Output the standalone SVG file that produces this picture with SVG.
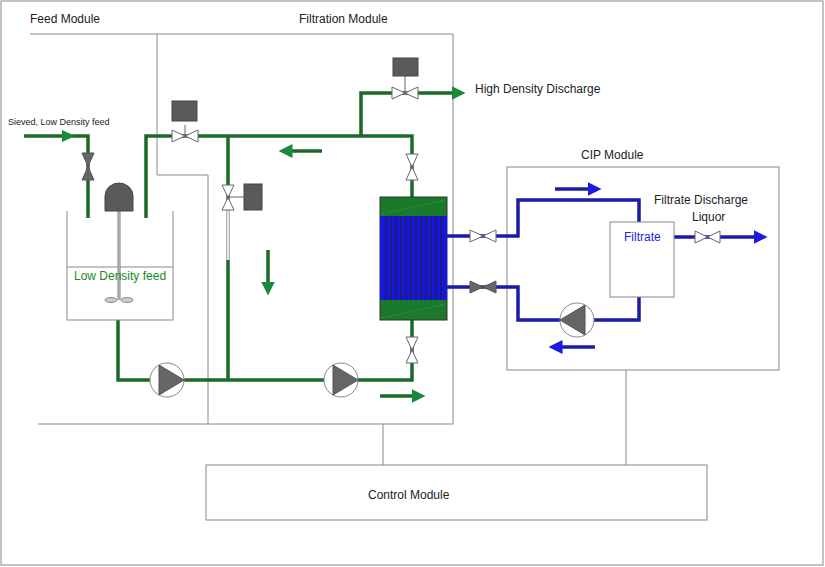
<svg xmlns="http://www.w3.org/2000/svg" width="825" height="567" viewBox="0 0 825 567">
<style>
text{font-family:"Liberation Sans",Arial,sans-serif;font-size:12px;fill:#222}
.b{fill:none;stroke:#888;stroke-width:1}
.g{fill:none;stroke:#1a6b2a;stroke-width:3.5;stroke-linejoin:miter}
.gi{fill:none;stroke:#2f9a45;stroke-width:1}
.u{fill:none;stroke:#1a1aa8;stroke-width:3.5}
.ui{fill:none;stroke:#4a5cff;stroke-width:1}
.vw{fill:#fff;stroke:#666;stroke-width:1}
.vg{fill:#666;stroke:#555;stroke-width:1}
.act{fill:#5a5a5a;stroke:#444}
.pc{fill:#fff;stroke:#888}
.pt{fill:#666;stroke:#555}
</style>
<defs>
<marker id="ga" markerWidth="4" markerHeight="4" refX="3" refY="2" orient="auto" markerUnits="strokeWidth"><path d="M0,0L4,2L0,4z" fill="#1a8a3a"/></marker>
<marker id="ua" markerWidth="4" markerHeight="4" refX="3" refY="2" orient="auto" markerUnits="strokeWidth"><path d="M0,0L4,2L0,4z" fill="#1a1ae0"/></marker>
</defs>
<rect x="1" y="1" width="822" height="564" fill="#fff" stroke="#888"/>
<g id="modules">
<path class="b" d="M30,34H453V424H38"/>
<path class="b" d="M157,34V175H208V424"/>
<rect class="b" x="507" y="167" width="272" height="203"/>
<path class="b" d="M383,424V465M626,370V465"/>
<text x="30" y="23">Feed Module</text>
<text x="299" y="23">Filtration Module</text>
<text x="581" y="159">CIP Module</text>
</g>
<g id="control"><rect class="b" x="206" y="465" width="501" height="55"/><text x="368" y="499">Control Module</text></g>
<g id="connectors">
<path class="g" d="M24,136H88V218"/>
<path class="g" d="M146,218V136H412V197"/>
<path class="g" d="M361,136V93H462" marker-end="url(#ga)"/>
<path class="g" d="M228,136V210M228,260V380"/>
<path fill="none" stroke="#999" stroke-width="3.5" d="M228,210V260"/>
<path fill="none" stroke="#fff" stroke-width="1.5" d="M228,210V260"/>
<path class="g" d="M118,320V380H412V320"/>
<path class="u" d="M447,236H518V200H639V222"/>
<path class="u" d="M447,287H518V320H639V297"/>
<path class="u" d="M674,237H764" marker-end="url(#ua)"/>
<path class="g" d="M322,151H282" marker-end="url(#ga)"/>
<path class="g" d="M268,250V292" marker-end="url(#ga)"/>
<path class="g" d="M380,396H422" marker-end="url(#ga)"/>
<path class="u" d="M555,189H598" marker-end="url(#ua)"/>
<path class="u" d="M595,347H552" marker-end="url(#ua)"/>
<path fill="#1a8a3a" d="M62,130L75,136L62,142z"/>
</g>
<g id="tank">
<path class="b" d="M67,211V320H173V211M67,267H173"/>
<line x1="119" y1="211" x2="119" y2="300" stroke="#777" stroke-width="3"/>
<line x1="119" y1="211" x2="119" y2="300" stroke="#ddd" stroke-width="1"/>
<path class="act" d="M105,211V196A14,13 0 0 1 133,196V211Z"/>
<ellipse cx="111" cy="300" rx="6" ry="2.5" fill="#ccc" stroke="#888"/>
<ellipse cx="127" cy="300" rx="6" ry="2.5" fill="#ccc" stroke="#888"/>
<text x="74" y="280" style="fill:#1a8a1a">Low Density feed</text>
<text x="8" y="125" style="font-size:9px">Sieved, Low Density feed</text>
</g>
<g id="valves">
<path class="vg" d="M82,153H94L82,180H94Z"/>
<path class="vw" d="M172,130V142L198,130V142Z"/><line x1="185" y1="125" x2="185" y2="136" stroke="#666"/><rect class="act" x="172" y="101" width="25" height="20"/>
<path class="vw" d="M392,87V99L418,87V99Z"/><line x1="405" y1="76" x2="405" y2="93" stroke="#666"/><rect class="act" x="393" y="58" width="25" height="18"/>
<path class="vw" d="M406,154H418L406,180H418Z"/>
<path class="vw" d="M222,185H234L222,210H234Z"/><line x1="228" y1="197" x2="244" y2="197" stroke="#666"/><rect class="act" x="244" y="184" width="18" height="26"/>
<path class="vw" d="M406,337H418L406,363H418Z"/>
<path class="vw" d="M470,230V242L496,230V242Z"/>
<path class="vg" d="M470,281V293L496,281V293Z"/>
<path class="vw" d="M695,231V243L720,231V243Z"/>
</g>
<g id="membrane">
<rect x="380" y="197" width="67" height="123" fill="#1a7a2a" stroke="#333"/>
<rect x="380" y="216" width="67" height="84" fill="#1616e0"/>
<path stroke="#223" stroke-width="1.2" d="M386,216V300M391,216V300M396,216V300M401,216V300M406,216V300M411,216V300M416,216V300M421,216V300M426,216V300M431,216V300M436,216V300M441,216V300"/>
<path d="M382,214L445,200M382,318L445,304" stroke="#4cae6a" stroke-width="0.6" stroke-dasharray="2,2"/>
</g>
<g id="pumps">
<circle class="pc" cx="167" cy="380" r="17"/><path class="pt" d="M159,365L184,380L159,395Z"/>
<circle class="pc" cx="341" cy="380" r="17"/><path class="pt" d="M333,365L358,380L333,395Z"/>
<circle class="pc" cx="577" cy="320" r="17"/><path class="pt" d="M585,305L560,320L585,335Z"/>
</g>
<g id="filtrate">
<rect x="610" y="222" width="64" height="75" fill="#fff" stroke="#888"/>
<text x="624" y="241" style="fill:#2222ee">Filtrate</text>
<text x="654" y="204">Filtrate Discharge</text>
<text x="692" y="221">Liquor</text>
<text x="475" y="93">High  Density Discharge</text>
</g>
</svg>
